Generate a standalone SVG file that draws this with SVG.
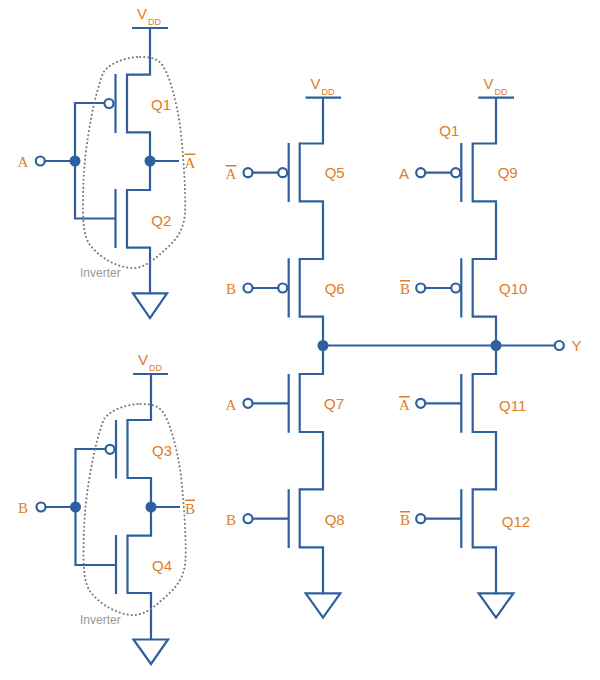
<svg xmlns="http://www.w3.org/2000/svg" width="600" height="680" viewBox="0 0 600 680">
<style>
.w{fill:none;stroke:#2f5f9e;stroke-width:2.2;stroke-linejoin:miter}
.o{fill:#fff;stroke:#2f5f9e;stroke-width:2.2}
.d{fill:#2f5f9e;stroke:none}
.blob{fill:none;stroke:#777;stroke-width:2;stroke-linecap:round;stroke-dasharray:0.1 4}
text{font-family:"Liberation Sans",Arial,sans-serif;fill:#e07d1f;font-size:15px}
.s{font-family:"Liberation Serif","Times New Roman",serif;font-size:15px;text-anchor:middle}
.ov{text-decoration:overline}
.q{text-anchor:middle}
.sub{font-size:9px}
.g{fill:#999;font-size:12px}
</style>
<rect width="600" height="680" fill="#fff"/>
<g id="connectors">
<path class="w" d="M132 28H168M150 28V74.700H127V132.300H150V190H127V247.700H150V293"/>
<path class="w" d="M115.500 74V133M115.500 189V248"/>
<path class="w" d="M104.500 103H75V218.500H115.500M45 161H75M150 161H179"/>
<path class="w" d="M133 293.300H167L150 318Z"/>
<path class="w" d="M133 374H168M151 374V420H127.500V478H151V535.700H127.500V593H151V639.500"/>
<path class="w" d="M116 420V478.500M116 535V594"/>
<path class="w" d="M105.500 449H75.500V565H116M46 507H75.500M151 507H180"/>
<path class="w" d="M133.500 639.500H168L151 664Z"/>
<path class="w" d="M305.500 97.700H341M323 97.700V143.500H299.700V201.300H323V259H299.700V316.700H323V374H299.700V432H323V489.300H299.700V547.300H323V593.300"/>
<path class="w" d="M288.700 143V202M288.700 258.300V317.500M288.700 374V432.700M288.700 489.300V548"/>
<path class="w" d="M253 172.700H278M253 288H278M253 403.300H288.700M253 518.700H288.700"/>
<path class="w" d="M305.700 593.300H340.300L323 617.700Z"/>
<path class="w" d="M478.300 97.700H514M496 97.700V143.500H472.700V201.300H496V259H472.700V316.700H496V374H472.700V432H496V489.300H472.700V547.300H496V593.300"/>
<path class="w" d="M461.300 143V202M461.300 258.300V317.500M461.300 374V432.700M461.300 489.300V548"/>
<path class="w" d="M426 172.700H451M426 288H451M426 403.300H461.300M426 518.700H461.300"/>
<path class="w" d="M478.700 593.300H513.300L496 617.700Z"/>
<path class="w" d="M323 345.500H554.500"/>
</g>
<g id="inverter-1">
<path class="blob" d="M140 57C150 57 158 58 163 66C170 77 176 100 180 125C183 150 186 190 185 213C184 228 178 238 168 247C157 257 146 268 133 268C118 268 100 258 90 245C84 237 83 222 83 207C83 185 84 165 87 143C90 122 95 95 103 73C108 64 125 57 140 57Z"/>
<text class="g" x="80" y="276.500">Inverter</text>
</g>
<g id="inverter-2">
<path class="blob" d="M140.500 404C150.500 404 158.500 405 163.500 413C170.500 424 176.500 447 180.500 472C183.500 497 186.500 537 185.500 560C184.500 575 178.500 585 168.500 594C157.500 604 146.500 615 133.500 615C118.500 615 100.500 605 90.500 592C84.500 584 83.500 569 83.500 554C83.500 532 84.500 512 87.500 490C90.500 469 95.500 442 103.500 420C108.500 411 125.500 404 140.500 404Z"/>
<text class="g" x="80" y="623.500">Inverter</text>
</g>
<g id="vdd-labels">
<text x="137" y="19">V<tspan class="sub" dx="1" dy="6">DD</tspan></text>
<text x="138" y="365">V<tspan class="sub" dx="1" dy="6">DD</tspan></text>
<text x="310.500" y="89">V<tspan class="sub" dx="1" dy="6">DD</tspan></text>
<text x="483.500" y="89">V<tspan class="sub" dx="1" dy="6">DD</tspan></text>
</g>
<g id="terminals">
<circle class="o" cx="40.300" cy="161" r="4.500"/><circle class="o" cx="109" cy="103.500" r="4.500"/>
<circle class="d" cx="75" cy="161" r="5.500"/><circle class="d" cx="150" cy="161" r="5.500"/>
<circle class="o" cx="41" cy="507" r="4.500"/><circle class="o" cx="110" cy="449.300" r="4.500"/>
<circle class="d" cx="75.500" cy="507" r="5.500"/><circle class="d" cx="151" cy="507" r="5.500"/>
<circle class="o" cx="248" cy="172.700" r="4.500"/><circle class="o" cx="282.700" cy="172.700" r="4.500"/>
<circle class="o" cx="248" cy="288" r="4.500"/><circle class="o" cx="282.700" cy="288" r="4.500"/>
<circle class="o" cx="248" cy="403.300" r="4.500"/><circle class="o" cx="248" cy="518.700" r="4.500"/>
<circle class="o" cx="420.700" cy="172.700" r="4.500"/><circle class="o" cx="455.700" cy="172.700" r="4.500"/>
<circle class="o" cx="420.700" cy="288" r="4.500"/><circle class="o" cx="455.700" cy="288" r="4.500"/>
<circle class="o" cx="420.700" cy="403.300" r="4.500"/><circle class="o" cx="420.700" cy="518.700" r="4.500"/>
<circle class="d" cx="323" cy="345.500" r="5.500"/><circle class="d" cx="496" cy="345.500" r="5.500"/>
<circle class="o" cx="559.300" cy="345.500" r="4.500"/>
</g>
<g id="labels">
<text class="s" x="23" y="167">A</text>
<text class="s" x="23" y="513">B</text>
<text class="s ov" x="190" y="167.500">A</text>
<text class="s ov" x="190" y="513.500">B</text>
<text class="s ov" x="231" y="179">A</text>
<text class="s" x="231" y="294">B</text>
<text class="s" x="231" y="409.500">A</text>
<text class="s" x="231" y="524.500">B</text>
<text class="s" x="404" y="178.500" style="font-family:'Liberation Sans',sans-serif">A</text>
<text class="s ov" x="405" y="294">B</text>
<text class="s ov" x="404.500" y="410">A</text>
<text class="s ov" x="405" y="525">B</text>
<text class="q" x="161" y="110">Q1</text>
<text class="q" x="161.300" y="225.500">Q2</text>
<text class="q" x="162" y="455.500">Q3</text>
<text class="q" x="162" y="571">Q4</text>
<text class="q" x="334.700" y="178">Q5</text>
<text class="q" x="334.700" y="293.500">Q6</text>
<text class="q" x="334" y="408.500">Q7</text>
<text class="q" x="334.700" y="524.500">Q8</text>
<text class="q" x="449.300" y="135.500">Q1</text>
<text class="q" x="507.700" y="178">Q9</text>
<text class="q" x="513.300" y="293.500">Q10</text>
<text class="q" x="512.700" y="411">Q11</text>
<text class="q" x="516" y="526.500">Q12</text>
<text x="571.500" y="350.500">Y</text>
</g>
</svg>
